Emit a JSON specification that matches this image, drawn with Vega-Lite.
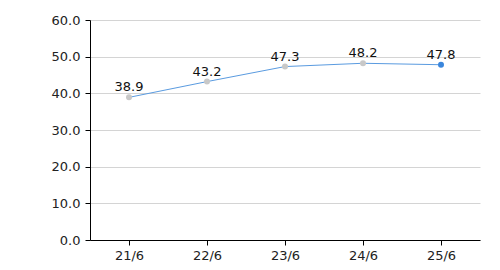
{
  "$schema": "https://vega.github.io/schema/vega-lite/v6.json",
  "autosize": {"type": "none"},
  "width": 390,
  "height": 220,
  "padding": {"left": 90, "top": 20, "right": 20, "bottom": 30},
  "background": "white",
  "config": {
    "view": {"stroke": null},
    "font": "DejaVu Sans"
  },
  "data": {
    "values": [
      {"date": "21/6", "value": 38.9, "last": "no"},
      {"date": "22/6", "value": 43.2, "last": "no"},
      {"date": "23/6", "value": 47.3, "last": "no"},
      {"date": "24/6", "value": 48.2, "last": "no"},
      {"date": "25/6", "value": 47.8, "last": "yes"}
    ]
  },
  "encoding": {
    "x": {
      "field": "date",
      "type": "ordinal",
      "sort": null,
      "scale": {"paddingInner": 0, "paddingOuter": 0},
      "axis": {
        "title": null,
        "labelAngle": 0,
        "labelFont": "DejaVu Sans",
        "labelFontSize": 13,
        "labelColor": "#222222",
        "labelPadding": 4,
        "domainColor": "#000000",
        "tickColor": "#000000",
        "tickSize": 5,
        "grid": false
      }
    },
    "y": {
      "field": "value",
      "type": "quantitative",
      "scale": {"domain": [0, 60], "nice": false},
      "axis": {
        "title": null,
        "values": [0, 10, 20, 30, 40, 50, 60],
        "format": ".1f",
        "labelFont": "DejaVu Sans",
        "labelFontSize": 13,
        "labelColor": "#222222",
        "labelPadding": 5,
        "domainColor": "#000000",
        "tickColor": "#000000",
        "tickSize": 5,
        "grid": true,
        "gridColor": "#d4d4d4",
        "gridWidth": 1
      }
    }
  },
  "layer": [
    {
      "mark": {"type": "line", "color": "#5a9be0", "strokeWidth": 1}
    },
    {
      "mark": {"type": "point", "filled": true, "size": 36, "opacity": 1},
      "encoding": {
        "color": {
          "field": "last",
          "type": "nominal",
          "scale": {"domain": ["no", "yes"], "range": ["#c8c8c8", "#3a86dc"]},
          "legend": null
        }
      }
    },
    {
      "mark": {"type": "text", "dy": -10, "fontSize": 13, "font": "DejaVu Sans", "color": "#111111"},
      "encoding": {
        "text": {"field": "value", "type": "quantitative", "format": ".1f"}
      }
    }
  ]
}
